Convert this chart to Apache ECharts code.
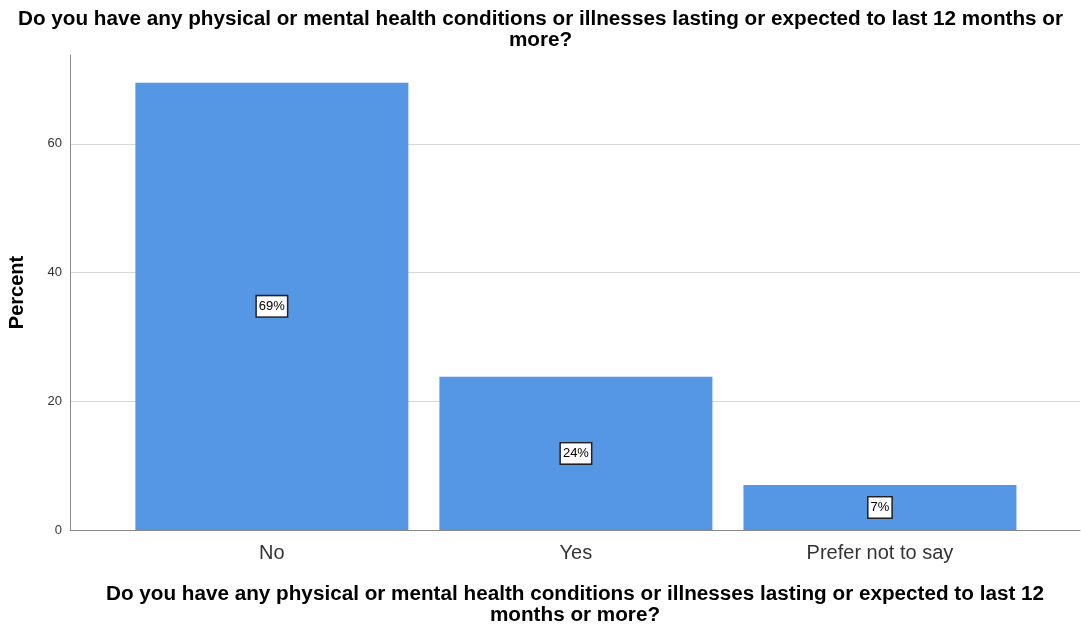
<!DOCTYPE html>
<html>
<head>
<meta charset="utf-8">
<script src="https://cdn.jsdelivr.net/npm/echarts@6/dist/echarts.min.js"></script>
<style>
html, body { margin: 0; padding: 0; background: #fff; }
#main { width: 1081px; height: 626px; }
</style>
</head>
<body>
<div id="main"></div>
<script>
// data
const categories = ['No', 'Yes', 'Prefer not to say']
const percents = [69.5, 23.8, 7.0]
const labels = ['69%', '24%', '7%']
const yTicks = [0, 20, 40, 60]

const question = 'Do you have any physical or mental health conditions or illnesses lasting or expected to last 12 months or\nmore?'
const axisTitle = 'Do you have any physical or mental health conditions or illnesses lasting or expected to last 12\nmonths or more?'

const font = 'Liberation Sans, Arial, sans-serif'

let chart = echarts.init(document.getElementById('main'))
chart.setOption({
  animation: false,
  title: {
    text: question,
    left: 'center',
    top: 4,
    textStyle: {
      fontFamily: font,
      fontSize: 20.7,
      fontWeight: 'bold',
      color: '#000',
      lineHeight: 21
    }
  },
  grid: {
    left: 70,
    right: 1,
    top: 55,
    bottom: 96,
    outerBoundsMode: 'none'
  },
  xAxis: {
    type: 'value',
    min: -0.664,
    max: 2.658,
    name: axisTitle,
    nameLocation: 'middle',
    nameGap: 54,
    nameTextStyle: {
      fontFamily: font,
      fontSize: 20.7,
      fontWeight: 'bold',
      color: '#000',
      lineHeight: 21
    },
    axisLine: { show: true, onZero: false, lineStyle: { color: '#888', width: 1 } },
    axisTick: { show: false },
    splitLine: { show: false },
    axisLabel: {
      customValues: [0, 1, 2],
      formatter: v => categories[Math.round(v)],
      fontFamily: font,
      fontSize: 20,
      color: '#333',
      margin: 13
    }
  },
  yAxis: {
    type: 'value',
    min: 0,
    max: 73.8,
    interval: 20,
    name: 'Percent',
    nameLocation: 'middle',
    nameGap: 43,
    nameTextStyle: {
      fontFamily: font,
      fontSize: 20,
      fontWeight: 'bold',
      color: '#000'
    },
    axisLine: { show: true, onZero: false, lineStyle: { color: '#888', width: 1 } },
    axisTick: { show: false },
    splitLine: {
      show: true,
      showMinLine: false,
      showMaxLine: false,
      lineStyle: { color: '#d6d6d6', width: 1 }
    },
    axisLabel: {
      customValues: yTicks,
      fontFamily: font,
      fontSize: 13,
      color: '#333',
      margin: 8,
      padding: [4, 0, 0, 0]
    }
  },
  series: [{
    type: 'bar',
    barWidth: 273,
    data: percents.map((v, i) => [i, v]),
    itemStyle: { color: '#5596e5' },
    label: {
      show: true,
      position: 'inside',
      formatter: p => labels[p.dataIndex],
      fontFamily: font,
      fontSize: 13,
      color: '#000',
      backgroundColor: '#fff',
      borderColor: '#222',
      borderWidth: 1.5,
      padding: [4, 2, 3, 2]
    }
  }]
})
</script>
</body>
</html>
